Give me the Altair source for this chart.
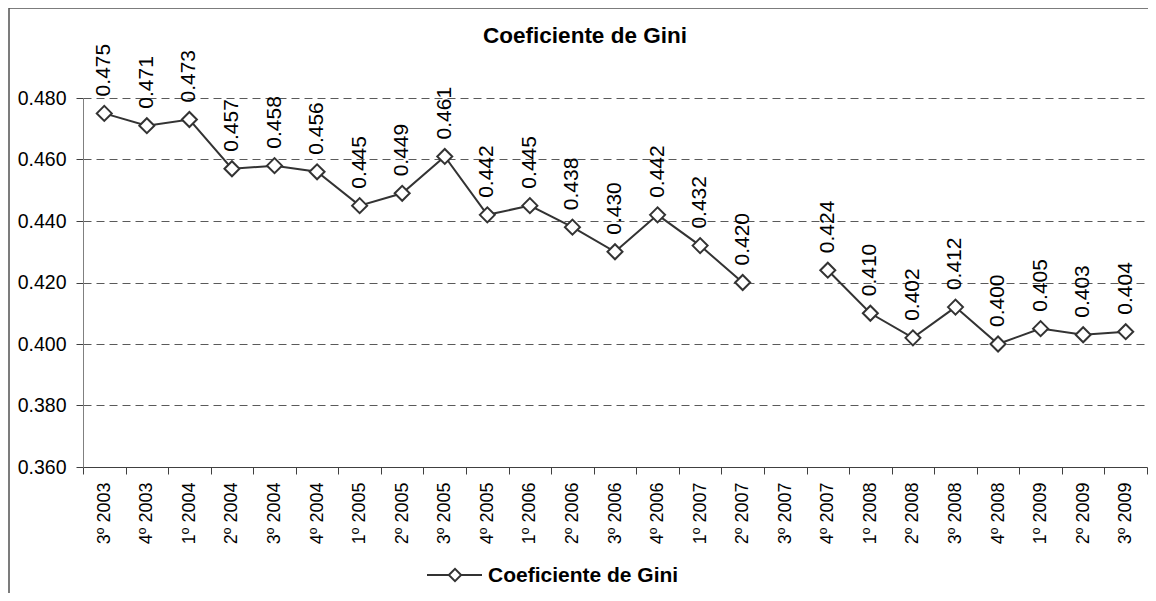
import altair as alt
import pandas as pd

categories = ["3º 2003", "4º 2003", "1º 2004", "2º 2004", "3º 2004", "4º 2004",
              "1º 2005", "2º 2005", "3º 2005", "4º 2005", "1º 2006", "2º 2006",
              "3º 2006", "4º 2006", "1º 2007", "2º 2007", "3º 2007", "4º 2007",
              "1º 2008", "2º 2008", "3º 2008", "4º 2008", "1º 2009", "2º 2009",
              "3º 2009"]
values = [0.475, 0.471, 0.473, 0.457, 0.458, 0.456, 0.445, 0.449, 0.461, 0.442,
          0.445, 0.438, 0.430, 0.442, 0.432, 0.420, None, 0.424, 0.410, 0.402,
          0.412, 0.400, 0.405, 0.403, 0.404]
y_ticks = [0.36, 0.38, 0.40, 0.42, 0.44, 0.46, 0.48]
series_name = "Coeficiente de Gini"

rows = []
seg = 0
for c, v in zip(categories, values):
    if v is None:
        seg += 1
        continue
    rows.append({"cat": c, "val": v, "seg": seg, "lbl": f"{v:.3f}"})
df = pd.DataFrame(rows)

FONT = "Liberation Sans"
LINE = "#333333"

x_enc = alt.X("cat:N", sort=categories, bandPosition=0.5,
              scale=alt.Scale(type="band", domain=categories, paddingInner=0, paddingOuter=0),
              axis=alt.Axis(title=None, labelAngle=270, labelFontSize=18, labelFont=FONT,
                            labelColor="black", tickBand="extent", tickSize=7,
                            labelPadding=8, domainColor="#404040", tickColor="#404040",
                            labelOverlap=False, labelLimit=200, grid=False))
y_enc = alt.Y("val:Q",
              scale=alt.Scale(domain=[0.36, 0.48], nice=False, zero=False),
              axis=alt.Axis(title=None, values=y_ticks, format=".3f", labelFontSize=19.5,
                            labelFont=FONT, labelColor="black", tickSize=7, labelPadding=10,
                            domainColor="#808080", tickColor="#404040",
                            grid=True, gridDash=[8, 5], gridColor="#5a5a5a", gridWidth=1))

base = alt.Chart(df)
line = base.mark_line(color=LINE, strokeWidth=2).encode(x=x_enc, y=y_enc, detail="seg:N")
pts = base.mark_point(shape="diamond", size=225, filled=True, fill="white",
                      stroke=LINE, strokeWidth=2, opacity=1).encode(x=x_enc, y=y_enc)
labels = base.mark_text(angle=270, align="left", baseline="middle", dx=17,
                        fontSize=21, font=FONT, color="black").encode(x=x_enc, y=y_enc, text="lbl:N")

one = pd.DataFrame({"t": [series_name]})
title = alt.Chart(one).mark_text(fontSize=22.5, fontWeight="bold", font=FONT, color="black",
                                 align="center", baseline="middle").encode(
    x=alt.value(502), y=alt.value(-62), text="t:N")
leg_line = alt.Chart(one).mark_rule(color=LINE, strokeWidth=2).encode(
    x=alt.value(344), x2=alt.value(399), y=alt.value(477))
leg_pt = alt.Chart(one).mark_point(shape="diamond", size=150, filled=True, fill="white",
                                   stroke=LINE, strokeWidth=2, opacity=1).encode(
    x=alt.value(372), y=alt.value(477))
leg_txt = alt.Chart(one).mark_text(fontSize=21, fontWeight="bold", font=FONT, color="black",
                                   align="left", baseline="middle").encode(
    x=alt.value(405), y=alt.value(478), text="t:N")
border_left = alt.Chart(one).mark_rule(color="#505050", strokeWidth=1.5).encode(
    x=alt.value(-74), y=alt.value(-90), y2=alt.value(510))
border_top = alt.Chart(one).mark_rule(color="#505050", strokeWidth=1.5).encode(
    x=alt.value(-74), x2=alt.value(1070), y=alt.value(-90))

chart = alt.layer(line, pts, labels, title, leg_line, leg_pt, leg_txt, border_left, border_top).properties(
    width=1064, height=369,
    autosize=alt.AutoSizeParams(type="none"),
    padding={"left": 75, "top": 90, "right": 1, "bottom": 126},
).configure_view(stroke=None)

chart.save("out.html", embed_options={"renderer": "svg", "actions": False})
